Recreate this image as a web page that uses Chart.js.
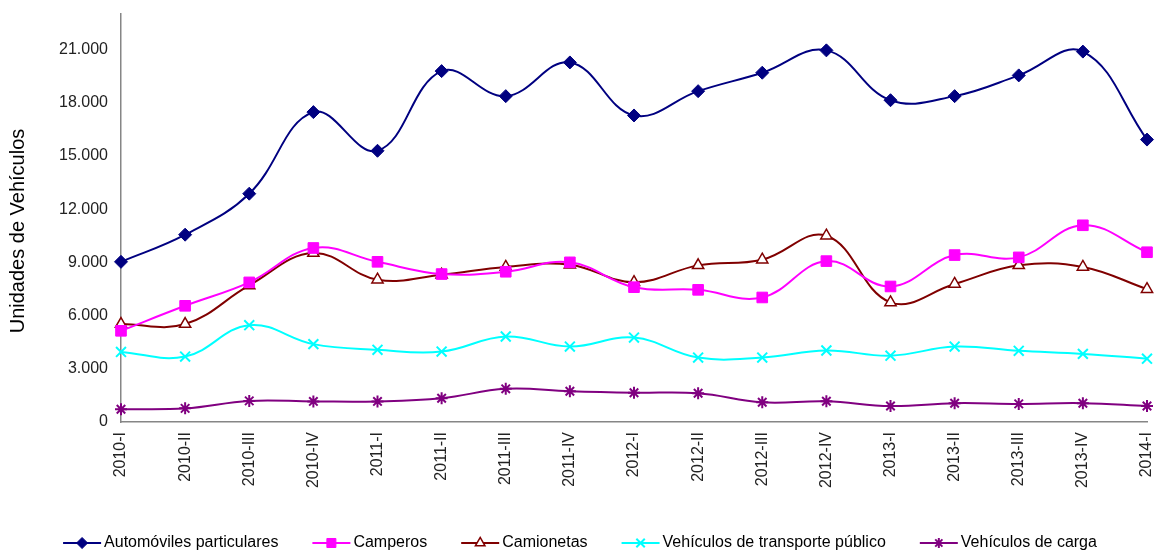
<!DOCTYPE html>
<html>
<head>
<meta charset="utf-8">
<script src="https://cdn.jsdelivr.net/npm/chart.js@4/dist/chart.umd.min.js"></script>
<style>
  html, body { margin: 0; padding: 0; background: #fff; }
  #wrap { width: 1156px; height: 550px; }
</style>
</head>
<body>
<div id="wrap"><canvas id="lineChart"></canvas></div>
<script>
// datos trimestrales
var periodos = ["2010-I", "2010-II", "2010-III", "2010-IV", "2011-I", "2011-II", "2011-III", "2011-IV",
    "2012-I", "2012-II", "2012-III", "2012-IV", "2013-I", "2013-II", "2013-III", "2013-IV", "2014-I"];
var automoviles = [9030, 10560, 12870, 17470, 15290, 19780, 18370, 20270, 17280, 18650, 19690, 20950, 18140, 18370, 19540, 20880, 15920];
var camperos    = [5140, 6550, 7870, 9810, 9030, 8340, 8470, 9000, 7600, 7450, 7020, 9070, 7640, 9410, 9280, 11090, 9570];
var camionetas  = [5520, 5520, 7700, 9520, 8020, 8300, 8740, 8870, 7880, 8830, 9150, 10500, 6740, 7780, 8830, 8740, 7490];
var transporte  = [3950, 3690, 5460, 4390, 4070, 3970, 4820, 4250, 4760, 3630, 3630, 4030, 3740, 4250, 4010, 3840, 3570];
var carga       = [720, 770, 1190, 1160, 1160, 1340, 1870, 1730, 1650, 1620, 1110, 1170, 900, 1060, 1020, 1060, 900];
var yTicks = [0, 3000, 6000, 9000, 12000, 15000, 18000, 21000];

function miles(v) {
    return String(v).replace(/\B(?=(\d{3})+(?!\d))/g, ".");
}

// leyenda estilo Excel: linea + marcador + texto
var leyendaExcel = {
    id: 'leyendaExcel',
    afterDraw: function(chart) {
        var ctx = chart.ctx;
        var sets = chart.data.datasets;
        ctx.save();
        ctx.font = "16px 'Liberation Sans', Arial, sans-serif";
        ctx.textBaseline = 'middle';
        ctx.textAlign = 'left';
        var lineW = 38, gapTxt = 3, gapItem = 34;
        var total = 0;
        sets.forEach(function(ds, i) {
            total += lineW + gapTxt + ctx.measureText(ds.label).width;
            if (i < sets.length - 1) total += gapItem;
        });
        var x = 580 - total / 2, y = 543;
        sets.forEach(function(ds) {
            ctx.strokeStyle = ds.borderColor;
            ctx.lineWidth = 2;
            ctx.beginPath();
            ctx.moveTo(x, y);
            ctx.lineTo(x + lineW, y);
            ctx.stroke();
            ctx.fillStyle = ds.pointBackgroundColor;
            ctx.strokeStyle = ds.pointBorderColor;
            ctx.lineWidth = ds.pointBorderWidth;
            Chart.helpers.drawPoint(ctx, {pointStyle: ds.pointStyle, radius: ds.pointRadius * 0.85, borderWidth: ds.pointBorderWidth}, x + lineW / 2, y);
            ctx.fillStyle = '#000';
            ctx.fillText(ds.label, x + lineW + gapTxt, y);
            x += lineW + gapTxt + ctx.measureText(ds.label).width + gapItem;
        });
        // titulo eje y
        ctx.translate(18, 231);
        ctx.rotate(-Math.PI / 2);
        ctx.textAlign = 'center';
        ctx.font = "20px 'Liberation Sans', Arial, sans-serif";
        ctx.fillText('Unidades de Vehículos', 0, 0);
        ctx.restore();
    }
};

function serie(label, data, color, style, radius, fill, bw) {
    return {
        label: label,
        data: data,
        borderColor: color,
        backgroundColor: color,
        borderWidth: 2,
        tension: 0.4,
        pointStyle: style,
        pointRadius: radius,
        pointHoverRadius: radius,
        pointBackgroundColor: fill,
        pointBorderColor: color,
        pointBorderWidth: bw,
        clip: false
    };
}

var ctxL = document.getElementById("lineChart").getContext('2d');
var myLineChart = new Chart(ctxL, {
    type: 'line',
    data: {
        labels: periodos,
        datasets: [
            serie("Automóviles particulares", automoviles, '#000080', 'rectRot', 6.5, '#000080', 1),
            serie("Camperos", camperos, '#FF00FF', 'rect', 7.5, '#FF00FF', 1),
            serie("Camionetas", camionetas, '#800000', 'triangle', 6.5, '#FFFFFF', 1.5),
            serie("Vehículos de transporte público", transporte, '#00FFFF', 'crossRot', 7, '#00FFFF', 2),
            serie("Vehículos de carga", carga, '#800080', 'star', 6, '#800080', 2)
        ]
    },
    options: {
        responsive: true,
        maintainAspectRatio: false,
        animation: false,
        layout: { padding: { top: 14, right: 9, bottom: 0, left: 0 } },
        plugins: {
            legend: { display: false },
            tooltip: { enabled: false }
        },
        scales: {
            x: {
                offset: false,
                grid: { display: false, drawTicks: false },
                border: { display: true, color: '#868686', width: 1.5 },
                ticks: {
                    color: '#222',
                    font: { family: "'Liberation Sans', Arial, sans-serif", size: 16 },
                    maxRotation: 90,
                    minRotation: 90,
                    autoSkip: false,
                    padding: 10
                },
                afterFit: function(scale) {
                    scale.height = 128;
                    scale.paddingLeft = 0;
                    scale.paddingRight = 0;
                }
            },
            y: {
                min: 0,
                max: 23000,
                grid: { display: false, drawTicks: false },
                border: { display: true, color: '#868686', width: 1.5 },
                ticks: {
                    stepSize: 3000,
                    color: '#222',
                    font: { family: "'Liberation Sans', Arial, sans-serif", size: 16 },
                    padding: 13,
                    callback: function(v) { return miles(v); }
                },
                afterBuildTicks: function(scale) {
                    scale.ticks = yTicks.map(function(v) { return { value: v }; });
                },
                afterFit: function(scale) {
                    scale.width = 121;
                    scale.paddingTop = 0;
                    scale.paddingBottom = 0;
                }
            }
        }
    },
    plugins: [leyendaExcel]
});
</script>
</body>
</html>
